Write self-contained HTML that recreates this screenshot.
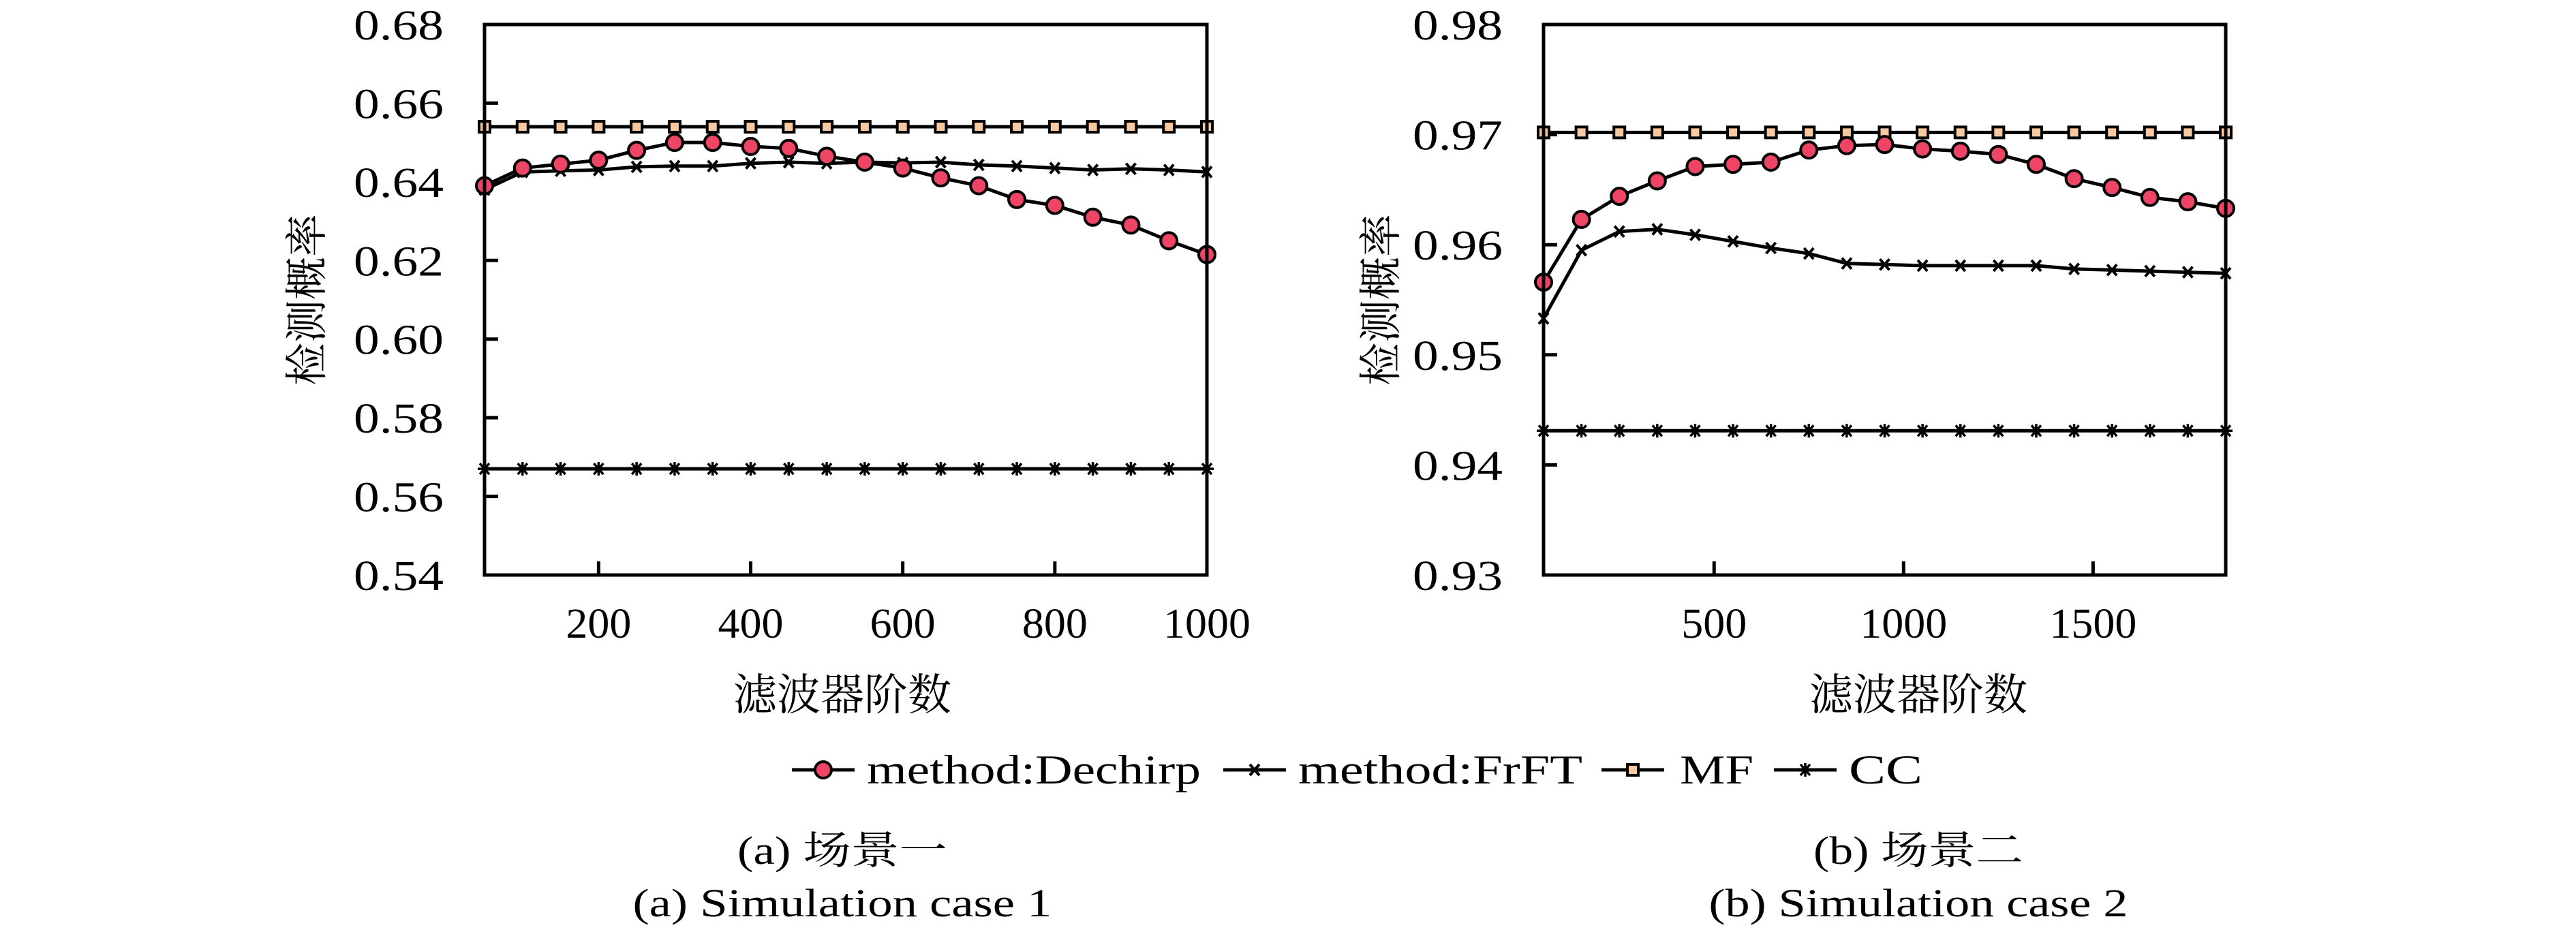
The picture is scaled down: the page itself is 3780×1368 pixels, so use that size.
<!DOCTYPE html>
<html><head><meta charset="utf-8"><style>
body{margin:0;background:#fff}
svg{display:block}
text{font-family:"Liberation Serif","Noto Serif CJK SC",serif;fill:#000}
</style></head><body>
<svg id="s" width="3780" height="1368" viewBox="0 0 3780 1368" xmlns="http://www.w3.org/2000/svg"></svg>
<script>
const xA = [50,100,150,200,250,300,350,400,450,500,550,600,650,700,750,800,850,900,950,1000];
const decA = [0.639,0.6435,0.6445,0.6455,0.648,0.650,0.650,0.649,0.6485,0.6465,0.645,0.6435,0.641,0.639,0.6355,0.634,0.631,0.629,0.625,0.6215];
const frA = [0.638,0.6425,0.6428,0.643,0.6438,0.644,0.644,0.6447,0.645,0.6447,0.645,0.6448,0.645,0.6443,0.644,0.6435,0.643,0.6433,0.643,0.6425];
const mfA = 0.654, ccA = 0.567;
const yTicksA = ["0.54","0.56","0.58","0.60","0.62","0.64","0.66","0.68"];
const xTicksA = [200,400,600,800,1000];
const xB = [50,150,250,350,450,550,650,750,850,950,1050,1150,1250,1350,1450,1550,1650,1750,1850];
const decB = [0.9566,0.9623,0.9644,0.9658,0.9671,0.9673,0.9675,0.9686,0.9690,0.9691,0.9687,0.9685,0.9682,0.9673,0.9660,0.9652,0.9643,0.9639,0.9633];
const frB = [0.9533,0.9595,0.9612,0.9614,0.9609,0.9603,0.9597,0.9592,0.9583,0.9582,0.9581,0.9581,0.9581,0.9581,0.9578,0.9577,0.9576,0.9575,0.9574];
const mfB = 0.9702, ccB = 0.9431;
const yTicksB = ["0.93","0.94","0.95","0.96","0.97","0.98"];
const xTicksB = [500,1000,1500];

const NS="http://www.w3.org/2000/svg", S=document.getElementById('s');
const FF='"Liberation Serif","Noto Serif CJK SC",serif';
function mk(t,a,p){const e=document.createElementNS(NS,t);for(const k in a)e.setAttribute(k,a[k]);(p||S).appendChild(e);return e;}
function txt(p,x,y,size,anchor,str,len){
  const a={x:x,y:y,'font-size':size,'text-anchor':anchor,'font-family':FF};
  if(len){a.textLength=len;a.lengthAdjust='spacingAndGlyphs';}
  const t=mk('text',a,p);t.textContent=str;return t;
}
function marker(g,kind,x,y){
  let e;
  if(kind==='circle'){e=mk('circle',{cx:x,cy:y,r:12,fill:'#ee4466',stroke:'#000','stroke-width':4},g);}
  else if(kind==='square'){e=mk('rect',{x:x-8,y:y-8,width:16,height:16,fill:'#f8c8a0',stroke:'#000','stroke-width':4},g);}
  else if(kind==='x'){e=mk('path',{d:`M${x-7} ${y-8}L${x+7} ${y+8}M${x+7} ${y-8}L${x-7} ${y+8}`,stroke:'#000','stroke-width':4,fill:'none'},g);}
  else {e=mk('path',{d:`M${x-7} ${y-8}L${x+7} ${y+8}M${x+7} ${y-8}L${x-7} ${y+8}M${x} ${y-10}L${x} ${y+10}M${x-10} ${y}L${x+10} ${y}`,stroke:'#000','stroke-width':3.5,fill:'none'},g);}
  
  
}
function series(g,xs,ys,sx,sy,kind,name){
  const sg=mk('g',{},g);
  
  
  const d=xs.map((v,i)=>(i?'L':'M')+sx(v)+' '+sy(ys[i])).join('');
  mk('path',{d:d,fill:'none',stroke:'#000','stroke-width':5},sg);
  xs.forEach((v,i)=>marker(sg,kind,sx(v),sy(ys[i])));
}
function chart(o){
  const g=mk('g',{});
  
  
  const sx=v=>o.L+(v-o.x0)/(o.x1-o.x0)*(o.R-o.L);
  const sy=v=>o.B-(v-o.y0)/(o.y1-o.y0)*(o.B-o.T);
  o.yt.forEach(t=>{const y=sy(+t);
    mk('line',{x1:o.L,x2:o.L+20,y1:y,y2:y,stroke:'#000','stroke-width':5},g);
    const tx=txt(g,o.L-60,y+22,62,'end',t,132);
    
    });
  o.xt.forEach(t=>{const x=sx(t);
    mk('line',{x1:x,x2:x,y1:o.B,y2:o.B-20,stroke:'#000','stroke-width':5},g);
    const s=String(t);
    const tx=txt(g,x,o.B+92,62,'middle',s,s.length*32);
    
    });
  series(g,o.xs,o.xs.map(()=>o.cc),sx,sy,'star','series-cc');
  series(g,o.xs,o.xs.map(()=>o.mf),sx,sy,'square','series-mf');
  series(g,o.xs,o.fr,sx,sy,'x','series-frft');
  series(g,o.xs,o.dec,sx,sy,'circle','series-dechirp');
  mk('rect',{x:o.L,y:o.T,width:o.R-o.L,height:o.B-o.T,fill:'none',stroke:'#000','stroke-width':5},g);
  const yl=mk('text',{x:0,y:0,'font-size':63,'text-anchor':'middle','font-family':FF,transform:`translate(${o.yl},${(o.T+o.B)/2}) rotate(-90)`},g);
  yl.textContent='检测概率';
  
  
  const xl=txt(g,o.cx,1042,64,'middle','滤波器阶数');
  
  
  const c1=txt(g,o.cx,1268,58,'middle',o.c1,308);
  
  
  const c2=txt(g,o.cx,1345,58,'middle',o.c2,615);
  
  
}
chart({name:'chart-a',L:711,R:1771,T:36,B:844,x0:50,x1:1000,y0:0.54,y1:0.68,yt:yTicksA,xt:xTicksA,xs:xA,dec:decA,fr:frA,mf:mfA,cc:ccA,yl:472,cx:1236,c1:'(a) 场景一',c2:'(a) Simulation case 1'});
chart({name:'chart-b',L:2265,R:3266,T:36,B:844,x0:50,x1:1850,y0:0.93,y1:0.98,yt:yTicksB,xt:xTicksB,xs:xB,dec:decB,fr:frB,mf:mfB,cc:ccB,yl:2048,cx:2815,c1:'(b) 场景二',c2:'(b) Simulation case 2'});
// legend
const lg=mk('g',{});


const items=[['circle',1162,'method:Dechirp',490],['x',1795,'method:FrFT',417],['square',2350,'MF',108],['star',2603,'CC',108]];
items.forEach(it=>{
  const eg=mk('g',{},lg);
  
  
  mk('line',{x1:it[1],x2:it[1]+92,y1:1130,y2:1130,stroke:'#000','stroke-width':5},eg);
  marker(eg,it[0],it[1]+46,1130);
  txt(eg,it[1]+100+(it[0]==='square'?15:10),1150,60,'start',it[2],it[3]);
});
</script>
</body></html>
